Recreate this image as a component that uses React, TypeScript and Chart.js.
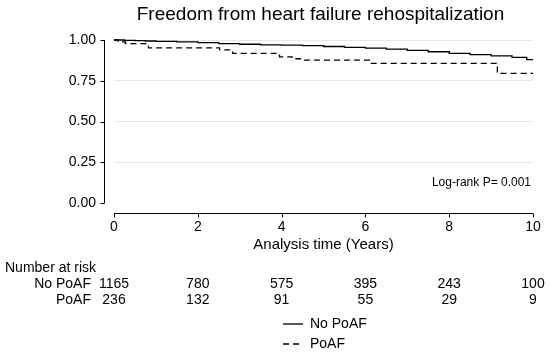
import React, { useEffect, useRef } from "react";
import { Chart, registerables } from "chart.js";

Chart.register(...registerables);

const chartTitle = "Freedom from heart failure rehospitalization";
const xAxisTitle = "Analysis time (Years)";
const logRankText = "Log-rank P= 0.001";
const seriesLabels = ["No PoAF", "PoAF"];

// Kaplan–Meier estimates
const noPoafTimes = [0, 0.25, 0.5, 0.75, 1, 1.5, 2, 2.5, 3, 3.5, 4, 4.5, 5, 5.5, 6, 6.5, 7, 7.5, 8, 8.5, 9, 9.5, 9.85, 10];
const noPoafSurv = [1, 0.998, 0.996, 0.994, 0.992, 0.988, 0.984, 0.978, 0.974, 0.97, 0.968, 0.965, 0.96, 0.955, 0.95, 0.944, 0.936, 0.928, 0.918, 0.91, 0.902, 0.894, 0.879, 0.879];
const poafTimes = [0, 0.1, 0.27, 0.82, 2.52, 2.83, 3.95, 4.25, 4.45, 6.12, 9.15, 10];
const poafSurv = [1, 0.988, 0.978, 0.952, 0.94, 0.918, 0.897, 0.885, 0.877, 0.857, 0.795, 0.795];

// Number at risk table
const riskTitle = "Number at risk";
const riskTimes = [0, 2, 4, 6, 8, 10];
const riskNoPoaf = [1165, 780, 575, 395, 243, 100];
const riskPoaf = [236, 132, 91, 55, 29, 9];

const yTicks = [0, 0.25, 0.5, 0.75, 1];
const xTicks = [0, 2, 4, 6, 8, 10];

const FONT = "'Liberation Sans', Arial, sans-serif";
const dashPattern = [6, 4];

const decorPlugin = {
  id: "decor",
  afterDraw(chart: any) {
    const ctx = chart.ctx;
    const xs = chart.scales.x;
    const ys = chart.scales.y;
    const area = chart.chartArea;
    ctx.save();
    ctx.strokeStyle = "#000";
    ctx.fillStyle = "#000";
    ctx.lineWidth = 1;
    ctx.setLineDash([]);

    // y axis line (offset)
    const axX = area.left - 9.5;
    ctx.beginPath();
    ctx.moveTo(axX, ys.getPixelForValue(1));
    ctx.lineTo(axX, ys.getPixelForValue(0));
    yTicks.forEach((v) => {
      const py = Math.round(ys.getPixelForValue(v)) + 0.5;
      ctx.moveTo(axX, py);
      ctx.lineTo(axX - 4, py);
    });
    ctx.stroke();

    // x axis line (offset)
    const axY = area.bottom + 10.5;
    ctx.beginPath();
    ctx.moveTo(xs.getPixelForValue(0), axY);
    ctx.lineTo(xs.getPixelForValue(10), axY);
    xTicks.forEach((v) => {
      const px = Math.round(xs.getPixelForValue(v)) + 0.5;
      ctx.moveTo(px, axY);
      ctx.lineTo(px, axY + 4);
    });
    ctx.stroke();

    const cx = (xs.getPixelForValue(0) + xs.getPixelForValue(10)) / 2;

    // title
    ctx.textBaseline = "middle";
    ctx.textAlign = "center";
    ctx.font = `19px ${FONT}`;
    ctx.fillText(chartTitle, cx - 3, 15);

    // x axis title
    ctx.font = `15px ${FONT}`;
    ctx.fillText(xAxisTitle, cx, 245);

    // log-rank
    ctx.textAlign = "right";
    ctx.font = `12px ${FONT}`;
    ctx.fillText(logRankText, xs.getPixelForValue(10) - 2, 183);

    // risk table
    ctx.font = `14px ${FONT}`;
    ctx.textAlign = "left";
    ctx.fillText(riskTitle, 5, 268);
    ctx.textAlign = "right";
    ctx.fillText(seriesLabels[0], 91, 284);
    ctx.fillText(seriesLabels[1], 91, 300);
    ctx.textAlign = "center";
    riskTimes.forEach((t, i) => {
      const px = xs.getPixelForValue(t);
      ctx.fillText(String(riskNoPoaf[i]), px, 284);
      ctx.fillText(String(riskPoaf[i]), px, 300);
    });

    // legend
    ctx.textAlign = "left";
    const lx0 = 283;
    const lx1 = 303;
    [324, 344].forEach((ly, i) => {
      ctx.beginPath();
      ctx.lineWidth = 1.3;
      ctx.setLineDash(i === 0 ? [] : dashPattern);
      ctx.moveTo(lx0, ly);
      ctx.lineTo(lx1, ly);
      ctx.stroke();
      ctx.setLineDash([]);
      ctx.fillText(seriesLabels[i], 310, ly);
    });
    ctx.restore();
  },
};

export default function App() {
  const ref = useRef<HTMLCanvasElement | null>(null);
  useEffect(() => {
    if (!ref.current) return;
    const chart = new Chart(ref.current, {
      type: "line",
      data: {
        datasets: [
          {
            label: seriesLabels[0],
            data: noPoafTimes.map((t, i) => ({ x: t, y: noPoafSurv[i] })),
            borderColor: "#000",
            borderWidth: 1.3,
            stepped: true,
            pointRadius: 0,
            fill: false,
            clip: false as any,
          },
          {
            label: seriesLabels[1],
            data: poafTimes.map((t, i) => ({ x: t, y: poafSurv[i] })),
            borderColor: "#000",
            borderWidth: 1.3,
            borderDash: dashPattern,
            stepped: true,
            pointRadius: 0,
            fill: false,
            clip: false as any,
          },
        ],
      },
      options: {
        animation: false,
        responsive: false,
        devicePixelRatio: 1,
        layout: { padding: { top: 40, right: 17, bottom: 0, left: 0 } },
        plugins: {
          legend: { display: false },
          title: { display: false },
          tooltip: { enabled: false },
        },
        scales: {
          x: {
            type: "linear",
            min: 0,
            max: 10,
            afterFit: (s: any) => {
              s.height = 152;
              s.paddingLeft = 0;
              s.paddingRight = 0;
            },
            afterBuildTicks: (s: any) => {
              s.ticks = xTicks.map((v) => ({ value: v }));
            },
            grid: { display: false, drawTicks: false },
            border: { display: false },
            ticks: {
              color: "#000",
              padding: 16,
              maxRotation: 0,
              font: { family: FONT, size: 14 },
            },
          },
          y: {
            type: "linear",
            min: 0,
            max: 1,
            afterFit: (s: any) => {
              s.width = 114;
              s.paddingTop = 0;
              s.paddingBottom = 0;
            },
            afterBuildTicks: (s: any) => {
              s.ticks = yTicks.map((v) => ({ value: v }));
            },
            grid: {
              drawTicks: false,
              color: (c: any) => (c.tick && c.tick.value === 0 ? "rgba(0,0,0,0)" : "#e6e6e6"),
              lineWidth: 1,
            },
            border: { display: false },
            ticks: {
              color: "#000",
              padding: 18,
              font: { family: FONT, size: 14 },
              callback: (v: any) => Number(v).toFixed(2),
            },
          },
        },
      },
      plugins: [decorPlugin],
    });
    return () => chart.destroy();
  }, []);
  return (
    <div style={{ position: "absolute", left: 0, top: 0, width: 550, height: 355, background: "#fff" }}>
      <canvas ref={ref} width={550} height={355} />
    </div>
  );
}
